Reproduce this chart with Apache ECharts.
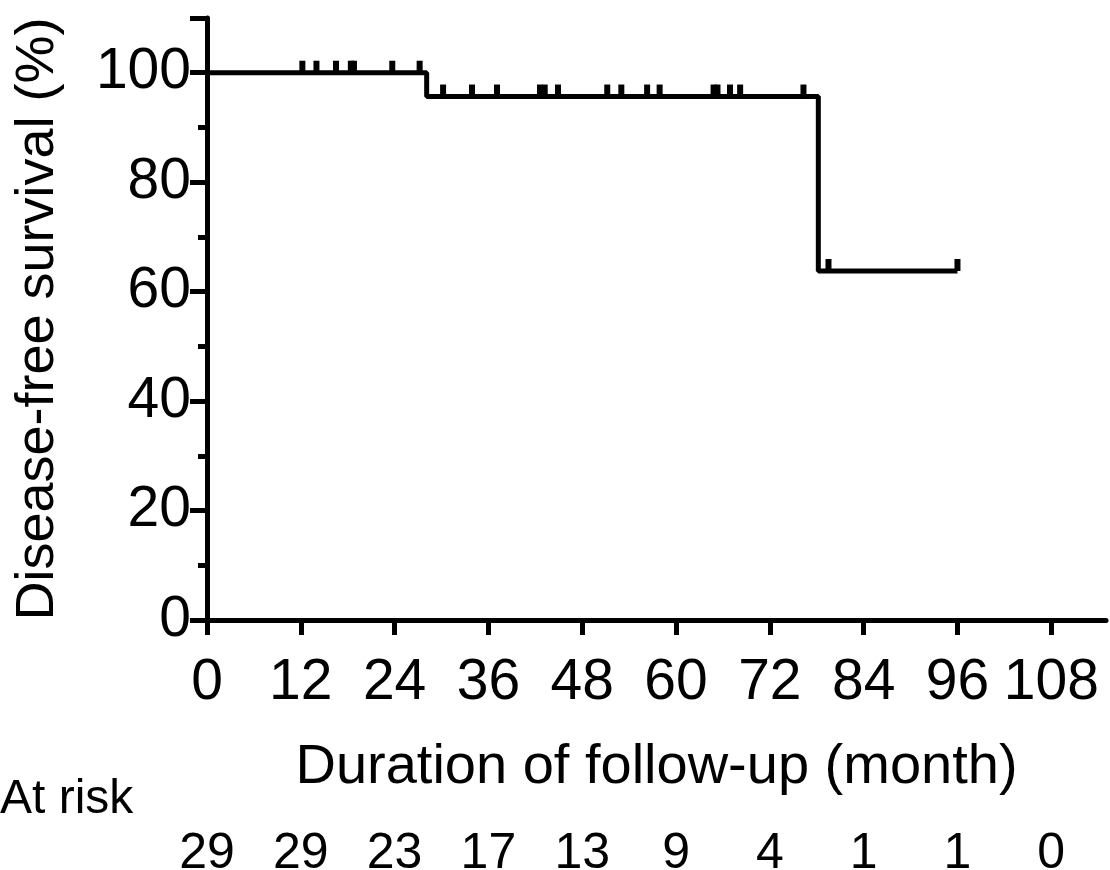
<!DOCTYPE html>
<html>
<head>
<meta charset="utf-8">
<script src="https://cdn.jsdelivr.net/npm/echarts@6/dist/echarts.min.js"></script>
<style>
  html, body { margin: 0; padding: 0; background: #fff; }
  #chart { width: 1110px; height: 870px; }
</style>
</head>
<body>
<div id="chart"></div>
<script>
// Kaplan-Meier steps (month, survival %)
var stepTimes = [0, 28.1, 78.2, 96]
var stepSurvival = [100, 95.65, 63.77, 63.77]
// censored observations (month)
var censorTimes = [12.2, 14.0, 16.5, 18.4, 18.8, 23.7, 27.2, 30.2, 33.9, 37.1,
  42.6, 43.2, 44.9, 51.2, 53.0, 56.3, 57.9, 64.8, 65.3, 66.9, 68.2, 76.3, 79.5, 96.0]
// x tick values and number at risk at each tick
var xTicks = [0, 12, 24, 36, 48, 60, 72, 84, 96, 108]
var atRisk = [29, 29, 23, 17, 13, 9, 4, 1, 1, 0]

var FONT = "'Liberation Sans', Arial, sans-serif"

function survivalAt (t) {
  var s = stepSurvival[0]
  for (var i = 0; i < stepTimes.length; i++) {
    if (stepTimes[i] <= t) s = stepSurvival[i]
  }
  return s
}

var stepData = stepTimes.map(function (t, i) { return [t, stepSurvival[i]] })
var censorData = censorTimes.map(function (t) { return [t, survivalAt(t)] })

var chart = echarts.init(document.getElementById('chart'))
var option = {
  backgroundColor: '#fff',
  animation: false,
  title: {
    text: 'At risk',
    left: 0,
    top: 776,
    padding: 0,
    textStyle: { fontFamily: FONT, fontSize: 48, fontWeight: 'normal', color: '#000' }
  },
  grid: { left: 207, right: 4, top: 18, bottom: 250, outerBoundsMode: 'none' },
  xAxis: [
    {
      type: 'value',
      min: 0,
      max: 115,
      interval: 12,
      name: 'Duration of follow-up (month)',
      nameLocation: 'middle',
      nameGap: 120,
      nameTextStyle: { fontFamily: FONT, fontSize: 56, color: '#000' },
      axisLine: { onZero: false, lineStyle: { color: '#000', width: 5 } },
      axisTick: { length: 15, lineStyle: { color: '#000', width: 5 } },
      axisLabel: {
        fontFamily: FONT, fontSize: 57, color: '#000', margin: 35,
        showMaxLabel: false,
        formatter: function (v) { return xTicks.indexOf(v) >= 0 ? String(v) : '' }
      },
      splitLine: { show: false }
    },
    {
      type: 'value',
      position: 'bottom',
      offset: 209,
      min: 0,
      max: 115,
      interval: 12,
      axisLine: { show: false },
      axisTick: { show: false },
      axisLabel: {
        fontFamily: FONT, fontSize: 50, color: '#000', margin: 0,
        showMaxLabel: false,
        formatter: function (v) {
          var i = xTicks.indexOf(v)
          return i >= 0 ? String(atRisk[i]) : ''
        }
      },
      splitLine: { show: false }
    }
  ],
  yAxis: {
    type: 'value',
    min: 0,
    max: 110,
    interval: 20,
    name: 'Disease-free survival (%)',
    nameLocation: 'middle',
    nameGap: 142,
    nameTextStyle: { fontFamily: FONT, fontSize: 54, color: '#000' },
    axisLine: { show: true, lineStyle: { color: '#000', width: 5 } },
    axisTick: { length: 17, lineStyle: { color: '#000', width: 5 } },
    minorTick: { show: true, splitNumber: 2, length: 9, lineStyle: { color: '#000', width: 5 } },
    axisLabel: {
      fontFamily: FONT, fontSize: 57, color: '#000', margin: 16,
      showMaxLabel: false,
      formatter: function (v) { return v % 20 === 0 ? String(v) : '' }
    },
    splitLine: { show: false }
  },
  series: [
    {
      type: 'line',
      step: 'end',
      data: stepData,
      symbol: 'none',
      lineStyle: { color: '#000', width: 5 }
    },
    {
      type: 'scatter',
      data: censorData,
      symbol: 'rect',
      symbolSize: [6, 12],
      symbolOffset: [0, -6],
      itemStyle: { color: '#000', opacity: 1 },
      z: 3
    }
  ]
}
chart.setOption(option)
</script>
</body>
</html>
